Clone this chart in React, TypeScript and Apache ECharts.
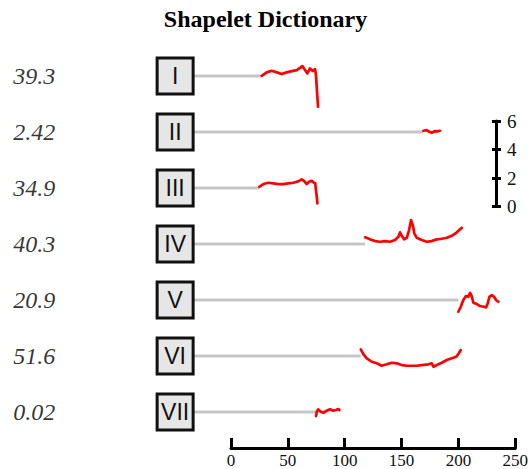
import React, { useEffect, useRef } from "react";
import * as echarts from "echarts";

// Shapelet labels and their scores
const NUMERALS = ["I", "II", "III", "IV", "V", "VI", "VII"];
const SCORES = ["39.3", "2.42", "34.9", "40.3", "20.9", "51.6", "0.02"];

// Shapelet I
const S1_T = [26.4, 30.7, 35.0, 39.3, 43.6, 47.9, 52.2, 56.5, 59.3, 61.3, 63.6, 65.6, 67.9, 70.2, 72.2, 73.0, 73.9, 74.8];
const S1_V = [0.02, 0.26, 0.37, 0.26, 0.14, 0.26, 0.35, 0.42, 0.58, 0.7, 0.42, 0.19, 0.54, 0.35, 0.49, 0.07, -1.1, -2.15];

// Shapelet II
const S2_T = [165.3, 168.2, 170.4, 172.5, 175.3, 177.3, 179.6];
const S2_V = [0.09, 0.14, 0.02, -0.05, 0.07, 0.05, 0.09];

// Shapelet III
const S3_T = [24.3, 27.8, 32.1, 36.4, 40.7, 45.0, 49.2, 53.5, 57.8, 60.8, 62.7, 65.1, 67.0, 69.4, 71.3, 72.4, 73.0, 73.7, 74.2];
const S3_V = [0.09, 0.28, 0.37, 0.33, 0.28, 0.28, 0.33, 0.37, 0.47, 0.61, 0.51, 0.28, 0.44, 0.51, 0.37, 0.33, -0.14, -0.61, -1.07];

// Shapelet IV
const S4_T = [115.2, 119.5, 123.8, 128.1, 132.3, 136.6, 140.9, 143.8, 145.2, 146.7, 148.7, 151.0, 153.0, 154.7, 156.2, 157.5, 159.6, 163.9, 168.2, 172.5, 176.8, 181.1, 185.4, 189.7, 194.0, 198.3];
const S4_V = [0.47, 0.33, 0.21, 0.16, 0.21, 0.16, 0.28, 0.51, 0.82, 0.58, 0.33, 0.44, 0.98, 1.68, 1.33, 0.75, 0.44, 0.28, 0.16, 0.21, 0.33, 0.37, 0.44, 0.58, 0.82, 1.14];

// Shapelet V
const S5_T = [195.3, 197.4, 199.6, 201.9, 203.9, 205.4, 206.8, 208.2, 211.2, 214.0, 216.9, 219.2, 220.6, 222.0, 224.1, 226.0, 227.7, 229.7];
const S5_V = [-0.82, -0.47, 0, 0.28, 0.23, 0.51, 0.28, -0.19, -0.28, -0.42, -0.47, -0.51, -0.23, 0.23, 0.35, 0.23, 0, -0.12];

// Shapelet VI
const S6_T = [111.5, 113.7, 116.6, 120.9, 125.2, 129.5, 133.8, 138.1, 142.4, 146.7, 151.0, 155.3, 159.6, 163.9, 169.6, 172.5, 173.9, 176.8, 181.1, 185.4, 189.7, 193.4, 195.3, 197.4];
const S6_V = [0.47, 0.14, -0.16, -0.4, -0.51, -0.68, -0.58, -0.47, -0.51, -0.63, -0.68, -0.68, -0.68, -0.63, -0.58, -0.51, -0.75, -0.63, -0.47, -0.28, -0.16, -0.05, 0.14, 0.42];

// Shapelet VII
const S7_T = [73.1, 73.7, 75.0, 77.1, 79.3, 82.2, 85.1, 87.9, 90.2, 92.2, 93.1];
const S7_V = [-0.28, 0.02, 0.19, 0.02, -0.05, 0.09, 0.19, 0.09, 0.14, 0.21, 0.14];

const SHAPELET_T = [S1_T, S2_T, S3_T, S4_T, S5_T, S6_T, S7_T];
const SHAPELET_V = [S1_V, S2_V, S3_V, S4_V, S5_V, S6_V, S7_V];

// Axis ticks
const TIME_TICKS = [0, 50, 100, 150, 200, 250];
const SCALE_TICKS = [0, 2, 4, 6];

// Layout: the time axis occupies x = 231..522; the plotting grid extends further
// left (same horizontal scale) so the boxes and connectors share its coordinates.
const AXIS_LEFT = 231;
const AXIS_RIGHT = 9;
const CHART_W = 531;
const T_MIN = -190;
const Y_MAX = 30;
const LAST_ROW = 2.52;
const ROW_GAP = 3.925;
const BOX_T = -48;
const SERIF = "'Liberation Serif', 'Times New Roman', serif";

export default function App() {
  const ref = useRef<HTMLDivElement>(null);

  useEffect(() => {
    document.body.style.margin = "0";
    if (!ref.current) return;
    const chart = echarts.init(ref.current, null, { renderer: "svg" });

    const tMax = TIME_TICKS[TIME_TICKS.length - 1];
    const pxPerT = (CHART_W - AXIS_RIGHT - AXIS_LEFT) / tMax;
    const plotLeft = AXIS_LEFT + T_MIN * pxPerT;

    const n = NUMERALS.length;
    const rowY = (i: number) => LAST_ROW + ROW_GAP * (n - 1 - i);

    const connectors = NUMERALS.map((_, i) => ({
      type: "line",
      xAxisIndex: 0,
      yAxisIndex: 0,
      symbol: "none",
      z: 1,
      lineStyle: { color: "#c6c6c6", width: 3 },
      data: [
        [BOX_T, rowY(i)],
        [SHAPELET_T[i][0], rowY(i)],
      ],
    }));

    const curves = SHAPELET_T.map((ts, i) => ({
      type: "line",
      xAxisIndex: 0,
      yAxisIndex: 0,
      symbol: "none",
      clip: false,
      z: 3,
      lineStyle: { color: "#ff0000", width: 2.7, join: "round", cap: "round" },
      data: ts.map((t, k) => [t, rowY(i) + SHAPELET_V[i][k]]),
    }));

    const boxes = {
      type: "scatter",
      xAxisIndex: 0,
      yAxisIndex: 0,
      z: 5,
      symbol: "rect",
      symbolSize: 36,
      itemStyle: { color: "#e6e6e6", borderColor: "#111", borderWidth: 3, opacity: 1 },
      label: {
        show: true,
        position: "inside",
        formatter: (p: any) => NUMERALS[p.dataIndex],
        fontFamily: "'Liberation Sans', Arial, sans-serif",
        fontSize: 23,
        color: "#111",
      },
      data: NUMERALS.map((_, i) => [BOX_T, rowY(i)]),
    };

    const scores = {
      type: "scatter",
      xAxisIndex: 0,
      yAxisIndex: 0,
      z: 5,
      symbolSize: 0,
      label: {
        show: true,
        position: "inside",
        align: "left",
        offset: [-162, 0],
        formatter: (p: any) => SCORES[p.dataIndex],
        fontFamily: SERIF,
        fontStyle: "italic",
        fontSize: 24,
        color: "#000",
      },
      data: NUMERALS.map((_, i) => [BOX_T, rowY(i)]),
    };

    chart.setOption({
      animation: false,
      title: {
        text: "Shapelet Dictionary",
        left: "center",
        top: 2,
        textStyle: { fontFamily: SERIF, fontWeight: "bold", fontSize: 24, color: "#000" },
      },
      grid: [
        { left: plotLeft, right: AXIS_RIGHT, top: 20, bottom: 21 },
        { left: 496, width: 1, top: 121, height: 85.6 },
        { left: AXIS_LEFT, right: AXIS_RIGHT, top: 20, bottom: 21 },
      ],
      xAxis: [
        { gridIndex: 0, type: "value", min: T_MIN, max: tMax, show: false },
        { gridIndex: 1, type: "value", show: false, min: 0, max: 1 },
        {
          gridIndex: 2,
          type: "value",
          min: TIME_TICKS[0],
          max: tMax,
          interval: TIME_TICKS[1] - TIME_TICKS[0],
          splitLine: { show: false },
          axisLine: { show: true, lineStyle: { color: "#000", width: 3 } },
          axisTick: { show: true, inside: true, length: 10, lineStyle: { color: "#000", width: 3 } },
          axisLabel: { fontFamily: SERIF, fontSize: 17, color: "#111", margin: 4, showMaxLabel: true },
        },
      ],
      yAxis: [
        { gridIndex: 0, type: "value", min: 0, max: Y_MAX, show: false },
        {
          gridIndex: 1,
          type: "value",
          position: "right",
          min: SCALE_TICKS[0],
          max: SCALE_TICKS[SCALE_TICKS.length - 1],
          interval: SCALE_TICKS[1] - SCALE_TICKS[0],
          splitLine: { show: false },
          axisLine: { show: true, lineStyle: { color: "#000", width: 3 } },
          axisTick: { show: true, length: 5, lineStyle: { color: "#000", width: 3 } },
          axisLabel: { fontFamily: SERIF, fontSize: 19, color: "#111", margin: 10 },
        },
        {
          gridIndex: 1,
          type: "value",
          position: "left",
          offset: -1,
          min: SCALE_TICKS[0],
          max: SCALE_TICKS[SCALE_TICKS.length - 1],
          interval: SCALE_TICKS[1] - SCALE_TICKS[0],
          splitLine: { show: false },
          axisLine: { show: false },
          axisTick: { show: true, length: 5, lineStyle: { color: "#000", width: 3 } },
          axisLabel: { show: false },
        },
        { gridIndex: 2, type: "value", min: 0, max: Y_MAX, show: false },
      ],
      series: [...connectors, ...curves, boxes, scores],
    });

    return () => chart.dispose();
  }, []);

  return <div ref={ref} style={{ width: 531, height: 469 }} />;
}
